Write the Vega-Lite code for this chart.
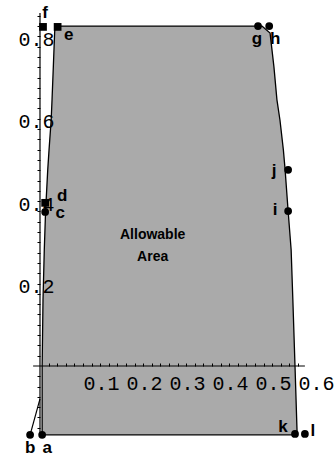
{
  "$schema": "https://vega.github.io/schema/vega-lite/v6.json",
  "width": 335,
  "height": 461,
  "autosize": "none",
  "padding": 0,
  "background": "white",
  "config": {"view": {"stroke": null}},
  "datasets": {
    "region": [
      {"y": -0.167, "x2": 0.005, "x": 0.598},
      {"y": 0.0, "x2": 0.005, "x": 0.593},
      {"y": 0.16, "x2": 0.007, "x": 0.588},
      {"y": 0.282, "x2": 0.010, "x": 0.584},
      {"y": 0.376, "x2": 0.013, "x": 0.577},
      {"y": 0.476, "x2": 0.018, "x": 0.570},
      {"y": 0.524, "x2": 0.021, "x": 0.566},
      {"y": 0.597, "x2": 0.026, "x": 0.558},
      {"y": 0.646, "x2": 0.028, "x": 0.551},
      {"y": 0.726, "x2": 0.031, "x": 0.544},
      {"y": 0.808, "x2": 0.034, "x": 0.535},
      {"y": 0.825, "x2": 0.035, "x": 0.516}
    ],
    "pts": [
      {"name": "f", "x": 0.007, "y": 0.823},
      {"name": "e", "x": 0.041, "y": 0.823},
      {"name": "g", "x": 0.507, "y": 0.825},
      {"name": "h", "x": 0.533, "y": 0.825},
      {"name": "j", "x": 0.577, "y": 0.476},
      {"name": "i", "x": 0.577, "y": 0.376},
      {"name": "d", "x": 0.012, "y": 0.396},
      {"name": "c", "x": 0.012, "y": 0.374},
      {"name": "b", "x": -0.023, "y": -0.167},
      {"name": "a", "x": 0.005, "y": -0.167},
      {"name": "k", "x": 0.593, "y": -0.165},
      {"name": "l", "x": 0.616, "y": -0.165}
    ],
    "rules": [
      {"x": 0, "x2": 0, "y": -0.167, "y2": 0.857},
      {"x": -0.016, "x2": 0.616, "y": 0, "y2": 0},
      {"x": 0, "x2": -0.023, "y": -0.08, "y2": -0.167}
    ],
    "notes": [{"text": "Allowable", "x": 0.262, "y": 0.318}, {"text": "Area", "x": 0.262, "y": 0.265}]
  },
  "encoding": {
    "y": {
      "field": "y", "type": "quantitative",
      "scale": {"domain": [-0.2306, 0.8883], "nice": false, "zero": false},
      "axis": {
        "orient": "left", "offset": -40, "domain": false, "grid": false, "title": null, "zindex": 1,
        "values": [-0.15, -0.125, -0.1, -0.075, -0.05, -0.025, 0.025, 0.05, 0.075, 0.1, 0.125, 0.15, 0.175, 0.2, 0.225, 0.25, 0.275, 0.3, 0.325, 0.35, 0.375, 0.4, 0.425, 0.45, 0.475, 0.5, 0.525, 0.55, 0.575, 0.6, 0.625, 0.65, 0.675, 0.7, 0.725, 0.75, 0.775, 0.8, 0.825, 0.85],
        "labelExpr": "(datum.value > 0.05 && abs(datum.value*5 - round(datum.value*5)) < 0.001) ? format(datum.value, '.1f') : ''",
        "tickSize": 3, "tickColor": "black", "tickWidth": 1,
        "labelAlign": "left", "labelBaseline": "middle", "labelPadding": 19, "labelOffset": 3,
        "labelFont": "Liberation Mono", "labelFontSize": 20, "labelColor": "black",
        "labelOverlap": false, "labelFlush": false, "labelBound": false
      }
    },
    "x": {
      "field": "x", "type": "quantitative",
      "scale": {"domain": [-0.093, 0.686], "nice": false, "zero": false},
      "axis": {
        "orient": "bottom", "offset": -95, "domain": false, "grid": false, "title": null, "zindex": 1,
        "values": [0.02, 0.04, 0.06, 0.08, 0.1, 0.12, 0.14, 0.16, 0.18, 0.2, 0.22, 0.24, 0.26, 0.28, 0.3, 0.32, 0.34, 0.36, 0.38, 0.4, 0.42, 0.44, 0.46, 0.48, 0.5, 0.52, 0.54, 0.56, 0.58, 0.6],
        "labelExpr": "(abs(datum.value*10 - round(datum.value*10)) < 0.001) ? format(datum.value, '.1f') : ''",
        "tickSize": -3, "tickColor": "black", "tickWidth": 1,
        "labelAlign": "left", "labelBaseline": "top", "labelPadding": 10,
        "labelFont": "Liberation Mono", "labelFontSize": 20, "labelColor": "black",
        "labelOverlap": false, "labelFlush": false, "labelBound": false
      }
    }
  },
  "layer": [
    {
      "data": {"name": "region"},
      "mark": {"type": "area", "orient": "horizontal", "fill": "#aaaaaa", "stroke": "black", "strokeWidth": 1.3},
      "encoding": {"x2": {"field": "x2"}}
    },
    {
      "data": {"name": "rules"},
      "mark": {"type": "rule", "color": "black", "strokeWidth": 1.2},
      "encoding": {"x2": {"field": "x2"}, "y2": {"field": "y2"}}
    },
    {
      "data": {"name": "pts"},
      "transform": [{"filter": "datum.name != 'f' && datum.name != 'e' && datum.name != 'd'"}],
      "mark": {"type": "point", "shape": "circle", "filled": true, "color": "black", "opacity": 1, "size": 60},
      "encoding": {}
    },
    {
      "data": {"name": "pts"},
      "transform": [{"filter": "datum.name == 'f' || datum.name == 'e' || datum.name == 'd'"}],
      "mark": {"type": "point", "shape": "square", "filled": true, "color": "black", "opacity": 1, "size": 60},
      "encoding": {}
    },
    {"data": {"name": "pts"}, "transform": [{"filter": "datum.name == 'f'"}], "mark": {"type": "text", "dx": 2, "dy": -14, "font": "Liberation Sans", "fontWeight": "bold", "fontSize": 17, "color": "black"}, "encoding": {"text": {"field": "name"}}},
    {"data": {"name": "pts"}, "transform": [{"filter": "datum.name == 'e'"}], "mark": {"type": "text", "dx": 11, "dy": 8, "font": "Liberation Sans", "fontWeight": "bold", "fontSize": 17, "color": "black"}, "encoding": {"text": {"field": "name"}}},
    {"data": {"name": "pts"}, "transform": [{"filter": "datum.name == 'g'"}], "mark": {"type": "text", "dx": -1, "dy": 13, "font": "Liberation Sans", "fontWeight": "bold", "fontSize": 17, "color": "black"}, "encoding": {"text": {"field": "name"}}},
    {"data": {"name": "pts"}, "transform": [{"filter": "datum.name == 'h'"}], "mark": {"type": "text", "dx": 6, "dy": 13, "font": "Liberation Sans", "fontWeight": "bold", "fontSize": 17, "color": "black"}, "encoding": {"text": {"field": "name"}}},
    {"data": {"name": "pts"}, "transform": [{"filter": "datum.name == 'j'"}], "mark": {"type": "text", "dx": -14, "dy": 1, "font": "Liberation Sans", "fontWeight": "bold", "fontSize": 17, "color": "black"}, "encoding": {"text": {"field": "name"}}},
    {"data": {"name": "pts"}, "transform": [{"filter": "datum.name == 'i'"}], "mark": {"type": "text", "dx": -13, "dy": -1, "font": "Liberation Sans", "fontWeight": "bold", "fontSize": 17, "color": "black"}, "encoding": {"text": {"field": "name"}}},
    {"data": {"name": "pts"}, "transform": [{"filter": "datum.name == 'd'"}], "mark": {"type": "text", "dx": 17, "dy": -7, "font": "Liberation Sans", "fontWeight": "bold", "fontSize": 17, "color": "black"}, "encoding": {"text": {"field": "name"}}},
    {"data": {"name": "pts"}, "transform": [{"filter": "datum.name == 'c'"}], "mark": {"type": "text", "dx": 15, "dy": 1, "font": "Liberation Sans", "fontWeight": "bold", "fontSize": 17, "color": "black"}, "encoding": {"text": {"field": "name"}}},
    {"data": {"name": "pts"}, "transform": [{"filter": "datum.name == 'b'"}], "mark": {"type": "text", "dx": 0, "dy": 13, "font": "Liberation Sans", "fontWeight": "bold", "fontSize": 17, "color": "black"}, "encoding": {"text": {"field": "name"}}},
    {"data": {"name": "pts"}, "transform": [{"filter": "datum.name == 'a'"}], "mark": {"type": "text", "dx": 5, "dy": 13, "font": "Liberation Sans", "fontWeight": "bold", "fontSize": 17, "color": "black"}, "encoding": {"text": {"field": "name"}}},
    {"data": {"name": "pts"}, "transform": [{"filter": "datum.name == 'k'"}], "mark": {"type": "text", "dx": -12, "dy": -7, "font": "Liberation Sans", "fontWeight": "bold", "fontSize": 17, "color": "black"}, "encoding": {"text": {"field": "name"}}},
    {"data": {"name": "pts"}, "transform": [{"filter": "datum.name == 'l'"}], "mark": {"type": "text", "dx": 8, "dy": -3, "font": "Liberation Sans", "fontWeight": "bold", "fontSize": 17, "color": "black"}, "encoding": {"text": {"field": "name"}}},
    {
      "data": {"name": "notes"},
      "mark": {"type": "text", "font": "Liberation Sans", "fontWeight": "bold", "fontSize": 14, "color": "black"},
      "encoding": {"text": {"field": "text"}}
    }
  ]
}
